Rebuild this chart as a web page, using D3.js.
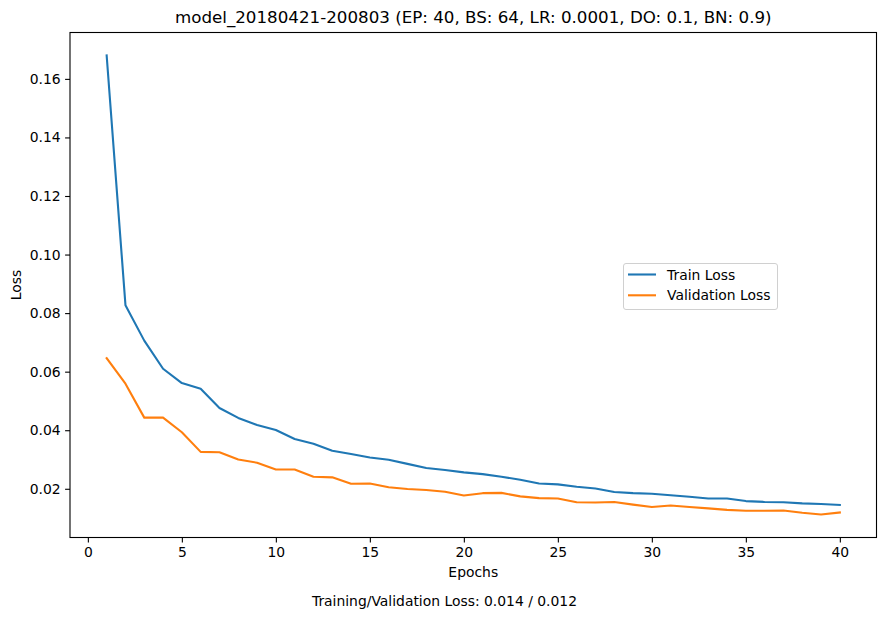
<!DOCTYPE html>
<html><head><meta charset="utf-8">
<script src="https://cdn.jsdelivr.net/npm/d3@7"></script>
<style>
body{margin:0;background:#fff;}
svg text{font-family:"DejaVu Sans",sans-serif;fill:#000;}
</style></head>
<body><svg id="c" width="889" height="619"></svg>
<script>
const epochs = d3.range(1, 41);
const trainLoss = [0.1680,0.0827,0.0706,0.0610,0.0561,0.0542,0.0476,0.0442,0.0418,0.0401,
  0.0370,0.0354,0.0330,0.0319,0.0307,0.0299,0.0285,0.0271,0.0264,0.0256,
  0.0250,0.0241,0.0231,0.0218,0.0215,0.0207,0.0201,0.0189,0.0185,0.0183,
  0.0178,0.0173,0.0167,0.0167,0.0158,0.0155,0.0154,0.0150,0.0148,0.0145];
const valLoss = [0.0646,0.0559,0.0443,0.0443,0.0393,0.0326,0.0325,0.0300,0.0289,0.0266,
  0.0266,0.0241,0.0239,0.0217,0.0218,0.0205,0.0199,0.0196,0.0190,0.0177,
  0.0185,0.0186,0.0174,0.0168,0.0167,0.0154,0.0153,0.0155,0.0146,0.0138,
  0.0143,0.0138,0.0133,0.0128,0.0125,0.0125,0.0126,0.0118,0.0112,0.0119];
const xTicks = [0,5,10,15,20,25,30,35,40];
const yTicks = [0.02,0.04,0.06,0.08,0.10,0.12,0.14,0.16];
const seriesNames = ["Train Loss","Validation Loss"];
const colors = ["#1f77b4","#ff7f0e"];
const titleText = "model_20180421-200803 (EP: 40, BS: 64, LR: 0.0001, DO: 0.1, BN: 0.9)";
const footText = "Training/Validation Loss: 0.014 / 0.012";

const L=70, R=876.5, T=32.5, B=537.5;
const svg = d3.select("#c");
const allVals = trainLoss.concat(valLoss);
const ymin = d3.min(allVals), ymax = d3.max(allVals), ym = (ymax-ymin)*0.05;
const x = d3.scaleLinear().domain([1-39*0.05, 40+39*0.05]).range([L,R]);
const y = d3.scaleLinear().domain([ymin-ym, ymax+ym]).range([B,T]);

const line = d3.line().x((d,i)=>x(epochs[i])).y(d=>y(d));
[trainLoss,valLoss].forEach((s,k)=>{
  svg.append("path").attr("d",line(s)).attr("fill","none")
    .attr("stroke",colors[k]).attr("stroke-width",2.1).attr("stroke-linejoin","round").attr("stroke-linecap","square");
});

const xa = svg.append("g").attr("transform",`translate(0,${B})`)
  .call(d3.axisBottom(x).tickValues(xTicks).tickSize(4.9).tickPadding(4.5).tickFormat(d3.format("d")));
const ya = svg.append("g").attr("transform",`translate(${L},0)`)
  .call(d3.axisLeft(y).tickValues(yTicks).tickSize(4.9).tickPadding(4.5).tickFormat(d3.format(".2f")));
[xa,ya].forEach(a=>{
  a.select(".domain").remove();
  a.selectAll("text").attr("font-size","13.9px").style("font-family","DejaVu Sans");
  a.selectAll("line").attr("stroke","#000").attr("stroke-width",1.1);
});
svg.append("rect").attr("x",L).attr("y",T).attr("width",R-L).attr("height",B-T)
  .attr("fill","none").attr("stroke","#000").attr("stroke-width",1.1);

svg.append("text").attr("x",(L+R)/2).attr("y",23).attr("text-anchor","middle")
  .attr("font-size","16.7px").text(titleText);
svg.append("text").attr("x",(L+R)/2).attr("y",577).attr("text-anchor","middle")
  .attr("font-size","13.9px").text("Epochs");
svg.append("text").attr("transform",`translate(21,${(T+B)/2}) rotate(-90)`).attr("text-anchor","middle")
  .attr("font-size","13.9px").text("Loss");
svg.append("text").attr("x",444.5).attr("y",606).attr("text-anchor","middle")
  .attr("font-size","13.9px").text(footText);

const lg = svg.append("g");
lg.append("rect").attr("x",623.5).attr("y",263.5).attr("width",154).attr("height",46).attr("rx",2.5)
  .attr("fill","#fff").attr("fill-opacity",0.8).attr("stroke","#d0d0d0").attr("stroke-width",1);
seriesNames.forEach((n,i)=>{
  const yy = 274.5 + i*20.8;
  lg.append("line").attr("x1",628).attr("x2",656).attr("y1",yy).attr("y2",yy)
    .attr("stroke",colors[i]).attr("stroke-width",2.1);
  lg.append("text").attr("x",667).attr("y",yy+5).attr("font-size","13.9px").text(n);
});
</script></body></html>
